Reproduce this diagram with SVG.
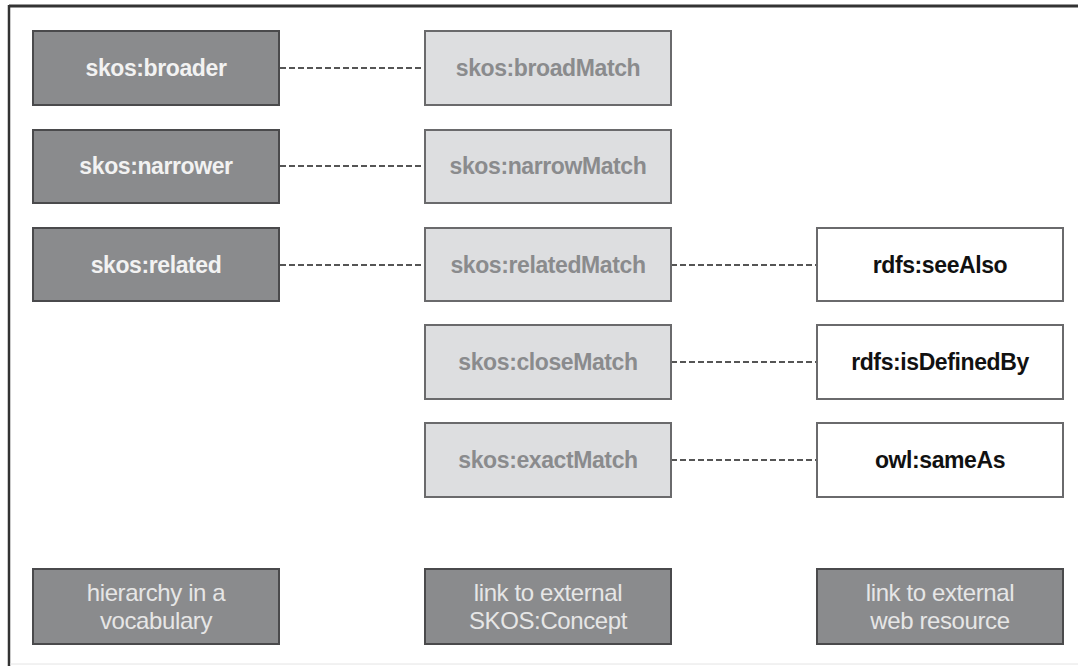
<svg xmlns="http://www.w3.org/2000/svg" width="1078" height="666" viewBox="0 0 1078 666">
<style>
.dark rect{fill:#8a8b8d;stroke:#4a4a4c;stroke-width:2}
.mid rect{fill:#dddee0;stroke:#6a6a6c;stroke-width:2}
.white rect{fill:#ffffff;stroke:#6a6a6c;stroke-width:2}
.legend rect{fill:#8a8b8d;stroke:#4a4a4c;stroke-width:2}
text{font-family:"Liberation Sans",Arial,sans-serif;text-anchor:middle}
.dark text{fill:#f2f2f2;font-weight:bold;font-size:23px;letter-spacing:-0.4px}
.mid text{fill:#8a8b8d;font-weight:bold;font-size:23px;letter-spacing:-0.4px}
.white text{fill:#111111;font-weight:bold;font-size:23px;letter-spacing:-0.4px}
.legend text{fill:#e6e6e6;font-size:24px;letter-spacing:-0.4px}
.conn line{stroke:#555;stroke-width:2;stroke-dasharray:6 3}
</style>
<rect x="0" y="0" width="1078" height="666" fill="#ffffff"/>
<g id="frame">
<line x1="9" y1="6" x2="1078" y2="6" stroke="#333" stroke-width="3"/>
<line x1="9" y1="5" x2="9" y2="666" stroke="#333" stroke-width="2.5"/>
<line x1="10" y1="664" x2="1078" y2="664" stroke="#e4e4e4" stroke-width="1"/>
</g>
<g id="connectors" class="conn">
<line x1="280" y1="68" x2="425" y2="68"/>
<line x1="280" y1="166" x2="425" y2="166"/>
<line x1="280" y1="265" x2="425" y2="265"/>
<line x1="671" y1="265" x2="817" y2="265"/>
<line x1="671" y1="362" x2="817" y2="362"/>
<line x1="671" y1="460" x2="817" y2="460"/>
</g>
<g id="broader" class="dark"><rect x="33" y="31" width="246" height="74"/><text x="156" y="76">skos:broader</text></g>
<g id="narrower" class="dark"><rect x="33" y="130" width="246" height="73"/><text x="156" y="174">skos:narrower</text></g>
<g id="related" class="dark"><rect x="33" y="228" width="246" height="73"/><text x="156" y="273">skos:related</text></g>
<g id="broadMatch" class="mid"><rect x="425" y="31" width="246" height="74"/><text x="548" y="76">skos:broadMatch</text></g>
<g id="narrowMatch" class="mid"><rect x="425" y="130" width="246" height="73"/><text x="548" y="174">skos:narrowMatch</text></g>
<g id="relatedMatch" class="mid"><rect x="425" y="228" width="246" height="73"/><text x="548" y="273">skos:relatedMatch</text></g>
<g id="closeMatch" class="mid"><rect x="425" y="325" width="246" height="74"/><text x="548" y="370">skos:closeMatch</text></g>
<g id="exactMatch" class="mid"><rect x="425" y="423" width="246" height="74"/><text x="548" y="468">skos:exactMatch</text></g>
<g id="seeAlso" class="white"><rect x="817" y="228" width="246" height="73"/><text x="940" y="273">rdfs:seeAlso</text></g>
<g id="isDefinedBy" class="white"><rect x="817" y="325" width="246" height="74"/><text x="940" y="370">rdfs:isDefinedBy</text></g>
<g id="sameAs" class="white"><rect x="817" y="423" width="246" height="74"/><text x="940" y="468">owl:sameAs</text></g>
<g id="legend-hierarchy" class="legend"><rect x="33" y="569" width="246" height="75"/><text x="156" y="601">hierarchy in a</text><text x="156" y="629">vocabulary</text></g>
<g id="legend-skos" class="legend"><rect x="425" y="569" width="246" height="75"/><text x="548" y="601">link to external</text><text x="548" y="629">SKOS:Concept</text></g>
<g id="legend-web" class="legend"><rect x="817" y="569" width="246" height="75"/><text x="940" y="601">link to external</text><text x="940" y="629">web resource</text></g>
</svg>
